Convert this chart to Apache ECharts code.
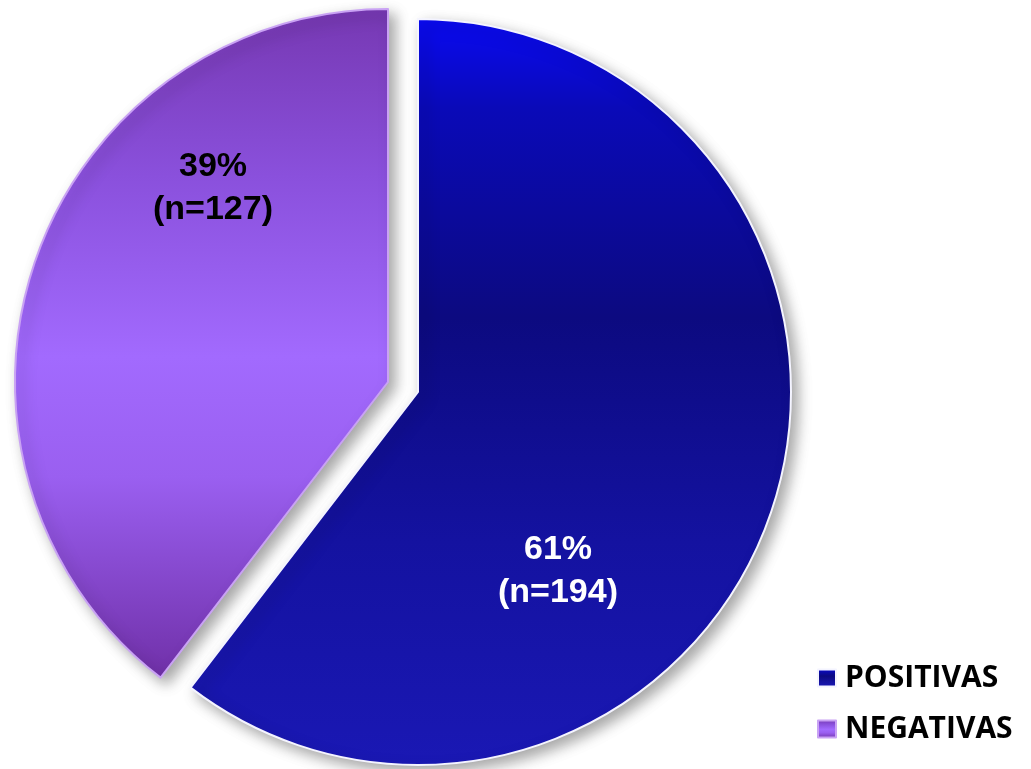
<!DOCTYPE html>
<html>
<head>
<meta charset="utf-8">
<script src="https://cdn.jsdelivr.net/npm/echarts@6/dist/echarts.min.js"></script>
<style>
html,body{margin:0;padding:0;background:#fff;}
#chart{width:1031px;height:769px;}
</style>
</head>
<body>
<div id="chart"></div>
<script>
// Data
const categories = ['POSITIVAS', 'NEGATIVAS'];
const counts = [194, 127];
const pctLabels = ['61%', '39%'];

// Styling / layout (not data)
const labelPos = [[558, 571], [213, 188]];
const labelColors = ['#ffffff', '#000000'];
const centers = [[418, 392], [388, 382]]; // second slice exploded

const blueGrad = new echarts.graphic.LinearGradient(0, 0, 0, 1, [
  { offset: 0, color: '#0a0af2' },
  { offset: 0.12, color: '#0a0ab8' },
  { offset: 0.4, color: '#0c0a80' },
  { offset: 0.7, color: '#1412a0' },
  { offset: 1, color: '#1a18b4' }
]);
const purpleGrad = new echarts.graphic.LinearGradient(0, 0, 0, 1, [
  { offset: 0, color: '#7638b2' },
  { offset: 0.25, color: '#8a50dc' },
  { offset: 0.52, color: '#a26afe' },
  { offset: 0.7, color: '#9a5ff0' },
  { offset: 1, color: '#7030a8' }
]);
const fills = [blueGrad, purpleGrad];
const borders = ['#f4f4ff', '#c9a2f4'];

function makeSeries(k) {
  return {
    type: 'pie',
    center: centers[k],
    radius: 373,
    startAngle: 90,
    clockwise: true,
    avoidLabelOverlap: false,
    silent: true,
    z: 2 - k,
    data: categories.map((c, i) => {
      const own = i === k;
      return {
        name: own ? c : ('_' + c),
        value: counts[i],
        itemStyle: own ? {
          color: fills[i],
          borderColor: borders[i],
          borderWidth: 2,
          shadowBlur: 14,
          shadowColor: 'rgba(0,0,0,0.35)',
          shadowOffsetX: 6,
          shadowOffsetY: 6
        } : { color: 'rgba(0,0,0,0)', borderWidth: 0 },
        label: own ? { show: true, color: labelColors[i] } : { show: false }
      };
    }),
    label: {
      position: 'inside',
      formatter: p => pctLabels[p.dataIndex] + '\n(n=' + counts[p.dataIndex] + ')',
      fontFamily: 'Liberation Sans',
      fontWeight: 'bold',
      fontSize: 34,
      lineHeight: 43,
      align: 'center'
    },
    labelLine: { show: false },
    labelLayout: p => ({
      x: labelPos[p.dataIndex][0],
      y: labelPos[p.dataIndex][1],
      align: 'center',
      verticalAlign: 'middle'
    }),
    emphasis: { disabled: true }
  };
}

const chart = echarts.init(document.getElementById('chart'), null, { renderer: 'canvas' });
chart.setOption({
  animation: false,
  backgroundColor: '#ffffff',
  legend: {
    orient: 'vertical',
    left: 812,
    top: 658,
    itemWidth: 18,
    itemHeight: 17,
    itemGap: 21,
    icon: 'rect',
    selectedMode: false,
    data: categories,
    textStyle: {
      fontFamily: 'Open Sans',
      fontWeight: 'bold',
      fontSize: 30,
      color: '#000',
      padding: [0, 0, 0, 4]
    }
  },
  series: [makeSeries(0), makeSeries(1)]
});
</script>
</body>
</html>
